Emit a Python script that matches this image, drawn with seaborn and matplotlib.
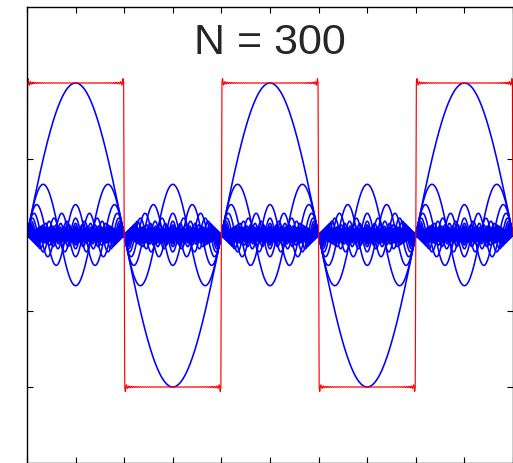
import numpy as np
import pandas as pd
import matplotlib
matplotlib.use("Agg")
import matplotlib.pyplot as plt
import seaborn as sns

# ---- data ----
N_TERMS = 300
harmonics = list(range(1, 2 * N_TERMS, 2))      # 300 odd harmonics 1,3,...,599
x_start, x_end, n_samples = 0.0, 5 * np.pi, 5 * 171 + 1
title_text = "N = 300"
xticks = [i * np.pi / 2 for i in range(11)]
yticks = [-1.0, -0.5, 0.0, 0.5, 1.0]

x = np.linspace(x_start, x_end, n_samples)
rows = []
for k in harmonics:
    rows.append(pd.DataFrame({"x": x, "y": np.sin(k * x) / k, "k": k}))
df = pd.concat(rows, ignore_index=True)
square = pd.DataFrame({"x": x, "y": (4 / np.pi) * df.groupby("x", sort=False)["y"].sum().values})

sns.set_style("white")
plt.rcParams["font.family"] = ["Liberation Sans", "DejaVu Sans"]

fig = plt.figure(figsize=(5.13, 4.64), dpi=100)
ax = fig.add_axes([27 / 513, 0.0, 486 / 513, 1 - 8 / 464])

sns.lineplot(data=df, x="x", y="y", units="k", estimator=None, color="#0000ff",
             lw=1.15, ax=ax, legend=False, sort=False)
sns.lineplot(data=square, x="x", y="y", estimator=None, color="#ff0000",
             lw=0.85, ax=ax, legend=False, sort=False)

ax.set_xlim(x_start, x_end)
ax.set_ylim(-1.5, 1.5)
ax.set_xticks(xticks)
ax.set_yticks(yticks)
ax.set_xticklabels([])
ax.set_yticklabels([])
ax.set_xlabel("")
ax.set_ylabel("")
ax.tick_params(direction="in", length=4, width=0.8, color="black",
               top=True, right=True, bottom=True, left=True)
for s in ax.spines.values():
    s.set_color("black")
    s.set_linewidth(1.0)
    s.set_visible(True)

ax.text(2.5 * np.pi, 1.2, title_text, ha="center", va="baseline", fontsize=31)

fig.savefig("out.png", dpi=100)
